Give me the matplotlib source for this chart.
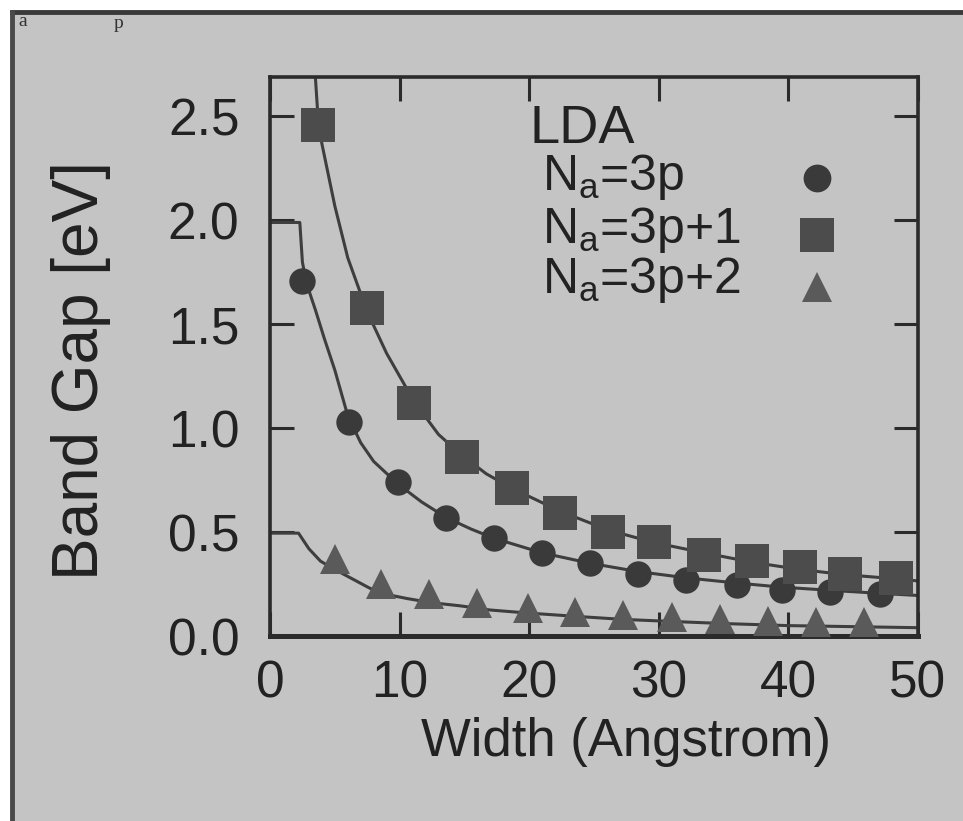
import numpy as np
import matplotlib
matplotlib.use("Agg")
import matplotlib.pyplot as plt
from matplotlib.patches import Rectangle
from matplotlib.lines import Line2D

plt.rcParams['font.family'] = ['Liberation Sans', 'DejaVu Sans']
plt.rcParams['mathtext.fontset'] = 'custom'
plt.rcParams['mathtext.rm'] = 'Liberation Sans'
plt.rcParams['mathtext.it'] = 'Liberation Sans:italic'

# ribbon width (Angstrom) and LDA band gap (eV) for the three families
w_3p = [2.5, 6.1, 9.9, 13.6, 17.3, 21.0, 24.7, 28.4, 32.1, 36.0, 39.5, 43.2, 47.1]
gap_3p = [1.71, 1.03, 0.74, 0.57, 0.47, 0.40, 0.35, 0.30, 0.27, 0.245, 0.22, 0.21, 0.20]

w_3p1 = [3.7, 7.5, 11.1, 14.8, 18.7, 22.4, 26.1, 29.6, 33.5, 37.2, 40.9, 44.4, 48.3]
gap_3p1 = [2.46, 1.58, 1.12, 0.86, 0.71, 0.59, 0.50, 0.45, 0.39, 0.36, 0.33, 0.30, 0.28]

w_3p2 = [5.0, 8.6, 12.3, 16.0, 19.9, 23.5, 27.2, 31.0, 34.7, 38.4, 42.1, 45.8]
gap_3p2 = [0.37, 0.25, 0.20, 0.16, 0.135, 0.115, 0.10, 0.09, 0.08, 0.07, 0.065, 0.065]

# fitted curves drawn through each family
fit_x_3p = [0, 2.3, 2.5, 2.8, 3.5, 4.2, 5.0, 6.0, 7.0, 8.0, 9.9, 11.7, 13.6, 15.5,
            17.3, 21.0, 24.7, 28.4, 32.1, 36.0, 39.5, 43.2, 47.1, 50]
fit_y_3p = [1.99, 1.99, 1.80, 1.70, 1.57, 1.43, 1.28, 1.06, 0.93, 0.84, 0.73, 0.645, 0.57, 0.515,
            0.47, 0.40, 0.35, 0.31, 0.28, 0.255, 0.235, 0.22, 0.205, 0.195]

fit_x_3p1 = [3.5, 3.7, 4.0, 5.0, 6.0, 7.5, 9.0, 11.1, 13.0, 14.8, 16.7, 18.7, 22.4,
             26.1, 29.6, 33.5, 37.2, 40.9, 44.4, 48.3, 50]
fit_y_3p1 = [2.69, 2.50, 2.37, 2.07, 1.82, 1.56, 1.36, 1.13, 0.97, 0.87, 0.78, 0.71, 0.60,
             0.51, 0.45, 0.40, 0.355, 0.32, 0.295, 0.275, 0.265]

fit_x_3p2 = [0, 2.2, 3.0, 3.9, 5.0, 6.2, 7.7, 9.0, 10.6, 12.5, 14.7, 17.0, 20.0,
             23.5, 27.2, 31.0, 35.0, 40.0, 45.0, 50]
fit_y_3p2 = [0.495, 0.495, 0.42, 0.36, 0.32, 0.28, 0.23, 0.20, 0.18, 0.16, 0.145, 0.125, 0.11,
             0.095, 0.08, 0.07, 0.06, 0.05, 0.045, 0.04]

x_ticks = [0, 10, 20, 30, 40, 50]
y_ticks = [0.0, 0.5, 1.0, 1.5, 2.0, 2.5]
legend_labels = [r'N$_{\mathrm{a}}$=3p', r'N$_{\mathrm{a}}$=3p+1', r'N$_{\mathrm{a}}$=3p+2']

bg = '#c4c4c4'
ink = '#2b2b2b'
line_c = '#3e3e3e'

fig = plt.figure(figsize=(9.63, 8.21), dpi=100)
fig.patch.set_facecolor('white')

# grey panel with a dark frame on top and left, kept behind the axes
fig.patches.append(Rectangle((12 / 963, 0), 1, (821 - 12) / 821, transform=fig.transFigure,
                             facecolor=bg, edgecolor='none', zorder=-10))
fig.lines.append(Line2D([12 / 963, 1], [(821 - 12) / 821] * 2, transform=fig.transFigure,
                        color='#3a3a3a', lw=3.5, zorder=-5))
fig.lines.append(Line2D([12 / 963] * 2, [0, (821 - 12) / 821], transform=fig.transFigure,
                        color='#4a4a4a', lw=3.5, zorder=-5))
fig.text(18 / 963, 1 - 26 / 821, 'a', fontsize=14, family='Liberation Serif', color='#333333')
fig.text(114 / 963, 1 - 28 / 821, 'p', fontsize=14, family='Liberation Serif', color='#333333')

ax = fig.add_axes([270 / 963, (821 - 636) / 821, 648 / 963, 559 / 821])
ax.set_facecolor(bg)

ax.plot(fit_x_3p, fit_y_3p, color=line_c, lw=2.2, zorder=2)
ax.plot(fit_x_3p1, fit_y_3p1, color=line_c, lw=2.2, zorder=2)
ax.plot(fit_x_3p2, fit_y_3p2, color=line_c, lw=2.2, zorder=2)

ax.plot(w_3p, gap_3p, 'o', color='#3a3a3a', markersize=19, mew=0, zorder=3)
ax.plot(w_3p1, gap_3p1, 's', color='#4c4c4c', markersize=24, mew=0, zorder=3)
ax.plot(w_3p2, gap_3p2, '^', color='#5a5a5a', markersize=21, mew=0, zorder=3)

ax.set_xlim(0, 50)
ax.set_ylim(0, 2.69)
ax.set_xticks(x_ticks)
ax.set_yticks(y_ticks)
ax.set_yticklabels([f'{v:.1f}' for v in y_ticks])

ax.tick_params(direction='in', top=True, right=True, length=17, width=2.2,
               color=ink, labelsize=37, labelcolor='#222222')
ax.tick_params(axis='x', pad=17)
ax.tick_params(axis='y', pad=22)
for side in ['left', 'right', 'top']:
    ax.spines[side].set_linewidth(2.6)
    ax.spines[side].set_color(ink)
ax.spines['bottom'].set_linewidth(3.6)
ax.spines['bottom'].set_color(ink)

ax.set_xlabel('Width (Angstrom)', fontsize=38, color='#222222')
ax.set_ylabel('Band Gap [eV]', fontsize=46, color='#222222')
ax.xaxis.set_label_coords(0.549, -0.145)
ax.yaxis.set_label_coords(-0.245, 0.475)

# legend block drawn by hand: title, left-aligned labels, markers in one column
ax.text(0.401, 0.882, 'LDA', transform=ax.transAxes, fontsize=39, color='#222222',
        va='baseline', ha='left')
label_y = [0.798, 0.703, 0.614]
mark_y = [0.819, 0.717, 0.624]
styles = [('o', '#3a3a3a', 20), ('s', '#4c4c4c', 24), ('^', '#5a5a5a', 21)]
for lab, ly, my, (m, c, ms) in zip(legend_labels, label_y, mark_y, styles):
    ax.text(0.420, ly, lab, transform=ax.transAxes, fontsize=36, color='#222222',
            va='baseline', ha='left')
    ax.plot([0.844], [my], m, color=c, markersize=ms, mew=0, transform=ax.transAxes,
            clip_on=False)

fig.savefig('out.png', dpi=100, facecolor=fig.get_facecolor())
